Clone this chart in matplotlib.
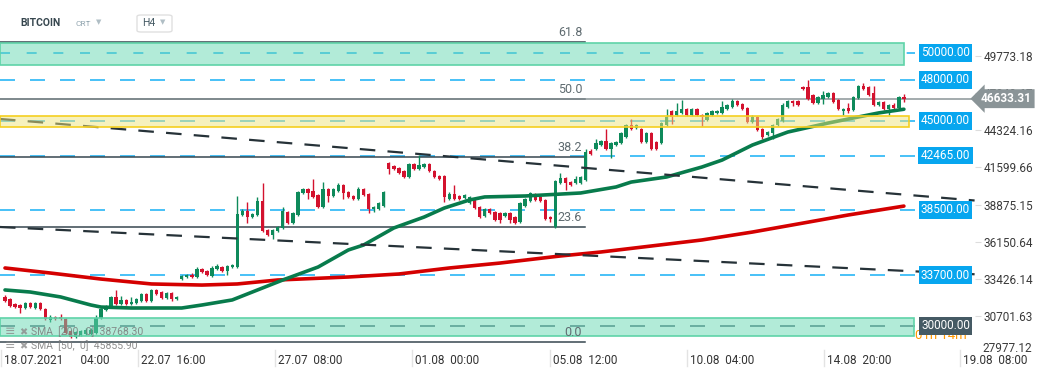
import matplotlib
matplotlib.use('Agg')
import matplotlib.pyplot as plt
import matplotlib.transforms as mtransforms
from matplotlib.patches import Rectangle, FancyBboxPatch
import numpy as np

# BTC H4 candles, 18.07.2021 04:00 onward
opens = np.array([
    32120, 31970, 31600, 31530, 31310, 31680, 31310, 31680, 31240, 30430,
    30650, 30650, 30500, 29630, 29190, 29330, 29410, 29410, 29480, 30580,
    31160, 31460, 32120, 31600, 31900, 31600, 31680, 31820, 32340, 31820,
    32630, 32480, 32040, 32410, 31970, 33430, 33580, 33730, 33580, 34170,
    34020, 33650, 34170, 34310, 34020, 34310, 34310, 38120, 38410, 37970,
    38120, 39140, 37020, 36650, 36950, 37170, 38340, 37530, 38120, 39730,
    40020, 39870, 39580, 38700, 40020, 39510, 39870, 40310, 39800, 39510,
    39290, 40020, 39660, 38560, 38560, 38780, 41920, 41700, 41560, 41340,
    40900, 41850, 41490, 41630, 41850, 41340, 40970, 40970, 39290, 39660,
    39510, 39360, 39000, 39220, 38700, 38050, 38560, 38340, 38260, 38050,
    38260, 37970, 37610, 38780, 39140, 39660, 39440, 39220, 37970, 37240,
    40460, 40830, 40530, 40460, 40460, 40680, 42800, 42950, 43240, 43530,
    42950, 43240, 43390, 43830, 44710, 44490, 44410, 43460, 44120, 43460,
    43390, 44710, 45730, 45440, 45580, 45880, 45440, 45880, 45440, 45070,
    45440, 45580, 45580, 45880, 46020, 46460, 46240, 45950, 44930, 45290,
    44410, 43970, 44120, 44710, 45000, 46020, 46460, 46460, 47490, 47490,
    46900, 46320, 46610, 46760, 47050, 46540, 45730, 45950, 45800, 46680,
    47560, 47490, 47050, 46170, 46390, 45880, 46170, 45950, 46760])
highs = np.array([
    32260, 32040, 31680, 31600, 31750, 31750, 31750, 31750, 31310, 30800,
    30730, 30870, 30580, 29700, 29630, 29700, 29850, 29850, 30800, 31310,
    31530, 32190, 32630, 32190, 31970, 32120, 32040, 32410, 32410, 32700,
    32700, 32560, 32480, 32480, 32190, 33730, 33800, 33870, 34310, 34240,
    34090, 34390, 34530, 34390, 34460, 34530, 39510, 38560, 39070, 38260,
    39440, 40460, 37090, 37090, 37310, 38700, 38410, 38340, 39870, 40090,
    40090, 40750, 39660, 40530, 40090, 40090, 40460, 40390, 39870, 39580,
    40170, 40090, 39730, 38780, 39070, 39870, 42000, 41780, 41630, 41410,
    41920, 41920, 42510, 41920, 41920, 41410, 41050, 41050, 39800, 40310,
    39580, 39660, 39510, 39290, 38780, 38630, 38630, 38410, 38340, 38340,
    38340, 38050, 39070, 39360, 39800, 39730, 39510, 39290, 38050, 40680,
    41190, 40900, 40610, 40970, 40970, 42950, 42950, 43680, 43610, 44410,
    43460, 43530, 44190, 44780, 45150, 44780, 44490, 44190, 44190, 43530,
    44930, 45880, 45800, 46320, 46540, 45950, 45950, 45950, 45510, 45660,
    45800, 45800, 46460, 46240, 46610, 46540, 46320, 46020, 45440, 45360,
    44490, 44270, 44780, 45220, 46320, 46540, 46540, 46540, 47560, 48000,
    46980, 46830, 47200, 47120, 47120, 46610, 45950, 46320, 46830, 47630,
    47780, 47560, 47560, 46460, 46460, 46240, 46320, 46830, 46980])
lows = np.array([
    31750, 31380, 31310, 30940, 31240, 31310, 31240, 31160, 30430, 30290,
    30430, 30430, 29410, 29110, 29110, 29260, 29330, 29330, 29410, 30500,
    31090, 31380, 31530, 31530, 31530, 31530, 31600, 31750, 31750, 31750,
    32260, 31970, 31970, 31820, 31900, 33360, 33510, 33510, 33510, 33870,
    33650, 33580, 34090, 33950, 33730, 34240, 34240, 38050, 37530, 37900,
    38050, 36870, 36580, 36360, 36870, 37090, 37460, 37460, 38050, 39660,
    39290, 39360, 38630, 38630, 39070, 39440, 39800, 39290, 39360, 39220,
    39220, 39510, 38260, 38340, 38480, 38700, 41120, 41410, 41120, 40830,
    40830, 41410, 41410, 41560, 41270, 40830, 40680, 39070, 39220, 39220,
    39220, 39290, 38920, 38560, 37900, 37970, 38190, 37680, 37530, 37970,
    37530, 37460, 37530, 38700, 39070, 39140, 39070, 37750, 37610, 37170,
    40390, 39950, 40240, 40390, 40390, 40610, 42510, 42880, 43170, 42880,
    42290, 43170, 43310, 43750, 44340, 44410, 43390, 43390, 42880, 42880,
    43310, 44630, 44780, 45360, 45510, 45360, 45360, 45360, 44630, 45000,
    45360, 45510, 45510, 45800, 45950, 46100, 45800, 44850, 44850, 44270,
    43680, 43900, 43680, 44630, 44930, 45950, 46100, 46100, 47270, 46540,
    46240, 46240, 46240, 46680, 46320, 45800, 45440, 45580, 45730, 46610,
    47270, 46830, 46100, 46100, 45800, 45440, 45880, 45880, 46390])
closes = np.array([
    31820, 31460, 31380, 31310, 31680, 31380, 31680, 31240, 30500, 30650,
    30500, 30500, 29480, 29190, 29550, 29630, 29700, 29700, 30580, 31240,
    31460, 32120, 31600, 31900, 31600, 31750, 31970, 32340, 31820, 32630,
    32340, 32040, 32410, 31970, 32120, 33650, 33730, 33580, 34170, 33950,
    33730, 34240, 34390, 34020, 34390, 34460, 38190, 38410, 37970, 38190,
    39140, 36950, 36650, 37020, 37240, 38410, 37530, 38260, 39800, 40020,
    39730, 39440, 38700, 40020, 39510, 40020, 40310, 39730, 39440, 39290,
    40020, 39580, 38560, 38700, 39000, 39800, 41490, 41490, 41190, 40900,
    41850, 41490, 41780, 41850, 41340, 40900, 40750, 39440, 39660, 39290,
    39290, 39580, 39440, 38630, 37970, 38560, 38260, 37750, 37750, 38260,
    37750, 37530, 39000, 39290, 39730, 39220, 39140, 37830, 37830, 40610,
    40830, 40460, 40310, 40750, 40900, 42730, 42580, 43390, 43530, 42950,
    43390, 43460, 44120, 44710, 44410, 44710, 43460, 44120, 42950, 42950,
    44850, 45290, 45290, 45730, 45880, 45440, 45880, 45440, 45290, 45580,
    45730, 45730, 46020, 46170, 46460, 46170, 45880, 44930, 45290, 44340,
    43830, 44190, 44710, 45150, 46170, 46460, 46320, 46170, 47340, 46610,
    46320, 46760, 46900, 47050, 46390, 45880, 45880, 45730, 46760, 47560,
    47340, 46900, 46170, 46390, 45880, 46170, 45950, 46760, 46630])

# moving averages (bar index, value)
sma50_idx = [0, 5, 11, 17, 19, 25, 35, 39, 45, 55, 62, 68, 71, 77, 83, 87,
             92, 95, 103, 114, 121, 124, 131, 138, 142, 148, 155, 163, 168, 173, 178]
sma50_val = [32630, 32480, 32120, 31530, 31380, 31310, 31310, 31530, 31900, 33360,
             34310, 35560, 35920, 37170, 37970, 38630, 39220, 39440, 39510, 39730,
             40170, 40530, 40900, 41630, 42140, 43240, 44190, 44850, 45220, 45590, 45860]
sma200_idx = [0, 9, 19, 29, 39, 46, 54, 68, 78, 88, 98, 110, 118, 128, 138,
              148, 157, 167, 178]
sma200_val = [34240, 33870, 33430, 33070, 32990, 33070, 33360, 33580, 33800, 34240,
              34600, 35120, 35410, 35850, 36290, 36870, 37460, 38120, 38770]

levels = [50000, 48000, 45000, 42465, 38500, 33700, 30000]
fib_labels = ['0.0', '23.6', '38.2', '50.0', '61.8']
fib_levels = [28820, 37210, 42400, 46600, 50790]
last_price = 46633.31

trend_upper = ([-1, 192], [45150, 39180])
trend_lower = ([-1, 192], [37240, 33780])

zone_green_top = (49100, 50710)
zone_yellow = (44560, 45370)
zone_green_bottom = (29260, 30580)

yticks = [49773.18, 47048.67, 44324.16, 41599.66, 38875.15, 36150.64, 33426.14, 30701.63]
xtick_pos = [-0.79, 26.34, 53.47, 80.59, 107.92, 135.05, 162.18, 189.11]
xtick_lab = ['18.07.2021      04:00', '22.07  16:00', '27.07  08:00', '01.08  00:00',
             '05.08  12:00', '10.08  04:00', '14.08  20:00', '19.08  08:00']

plt.rcParams['font.family'] = ['Roboto', 'DejaVu Sans']

W, H = 1041, 379
fig = plt.figure(figsize=(W / 100, H / 100), dpi=100)
ax = fig.add_axes([0, 29 / H, 975 / W, 350 / H])
ax.set_xlim(-0.99, 192.08)
ax.set_ylim(28236, 53856)
for s in ax.spines.values():
    s.set_visible(False)

blend = mtransforms.blended_transform_factory(ax.transAxes, ax.transData)
blend_x = mtransforms.blended_transform_factory(ax.transData, ax.transAxes)

# horizontal levels
for lv in levels:
    if lv == 30000:
        col, ds = '#546e7a', (0, (9, 9))
    elif lv == 50000:
        col, ds = '#29b6f6', (0, (6, 10))
    else:
        col, ds = '#29b6f6', (0, (9, 9))
    ax.plot([-0.99, 180.2], [lv, lv], color=col, lw=1.2, ls=ds, zorder=1.5)

# fibonacci lines
for lab, lv in zip(fib_labels, fib_levels):
    ax.plot([-0.99, 114.9], [lv, lv], color='#37474f', lw=1.1, zorder=1.6)
    ax.annotate(lab, (114.3, lv), xytext=(0, 3), textcoords='offset pixels',
                ha='right', va='bottom', fontsize=9, color='#5f6b70', zorder=6)

ax.axhline(last_price, color='#8a9497', lw=1.1, zorder=1.7)

# candles
idx = np.arange(len(closes))
up = closes >= opens
ccol = np.where(up, '#0e8a5b', '#d3122e')
ax.vlines(idx, lows, highs, colors=ccol, lw=1, zorder=3)
ax.bar(idx, np.maximum(np.abs(closes - opens), 70), bottom=np.minimum(opens, closes),
       width=0.66, color=ccol, lw=0, zorder=3)

# SMAs
ax.plot(sma200_idx, sma200_val, color='#d40000', lw=2.6, zorder=3.5, solid_capstyle='round')
ax.plot(sma50_idx, sma50_val, color='#087b4c', lw=2.6, zorder=3.5, solid_capstyle='round')

# trendlines
for tl in (trend_upper, trend_lower):
    ax.plot(tl[0], tl[1], color='#263238', lw=1.6, ls=(0, (7, 5.5)), zorder=4)

# zones
for (lo, hi), right, fc, ec in [(zone_green_top, 178.0, '#67d9b3', '#5fd3a8'),
                                (zone_yellow, 179.0, '#efe57d', '#f5cf1f'),
                                (zone_green_bottom, 180.0, '#67d9b3', '#5fd3a8')]:
    ax.add_patch(Rectangle((-0.99, lo), right + 0.99, hi - lo, fc=fc, ec='none',
                           alpha=0.5, zorder=5))
    ax.add_patch(Rectangle((-0.99, lo), right + 0.99, hi - lo, fc='none', ec=ec,
                           lw=1.2, zorder=5.1))

# right-side level labels (countdown sits partly under the 30000 box)
ax.text(0.938, 29280, '01h 14m', transform=blend, ha='left', va='center',
        fontsize=9.5, color='#ff9800', clip_on=False, zorder=6)
for lv in levels:
    fc = '#455a64' if lv == 30000 else '#07a6ef'
    ax.text(0.9697, lv, f'{lv:.2f}', transform=blend, ha='center', va='center',
            fontsize=8.5, color='white', clip_on=False, zorder=7,
            bbox=dict(boxstyle='square,pad=0.2', fc=fc, ec='none'))

# y axis ticks
ax.yaxis.tick_right()
ax.set_yticks(yticks)
ax.set_yticklabels([f'{v:.2f}' for v in yticks])
ax.tick_params(axis='y', length=4, color='#dddddd', pad=2, labelsize=8.5,
               labelcolor='#3a3a3a')
fig.text(982 / W, 1 - 348 / H, '27977.12', fontsize=8.5, color='#3a3a3a',
         ha='left', va='center')

ax.text(1.032, last_price, f'{last_price:.2f}', transform=blend, ha='center',
        va='center', fontsize=8.5, fontweight='bold', color='white', clip_on=False,
        zorder=8, bbox=dict(boxstyle='larrow,pad=0.25', fc='#8a9497', ec='none'))

# x axis
ax.set_xticks([])
for p, lab in zip(xtick_pos, xtick_lab):
    ax.plot([p, p], [0, -0.045], transform=blend_x, color='#e3e3e3', lw=1, clip_on=False)
    ax.annotate(lab, (p, -0.031), xycoords=blend_x, xytext=(3, 0),
                textcoords='offset pixels', ha='left', va='center', fontsize=8.5,
                color='#333333', annotation_clip=False)

# header
fig.text(20 / W, 1 - 23 / H, 'BITCOIN', fontsize=7.5, fontweight='bold',
         color='#37474f', va='center')
fig.text(75 / W, 1 - 24 / H, 'CRT', fontsize=6, color='#90a4ae', va='center')
fig.text(96 / W, 1 - 22 / H, '▼', fontsize=5, color='#b0bec5', va='center',
         family='DejaVu Sans')
fig.add_artist(FancyBboxPatch((137 / W, 1 - 32 / H), 35 / W, 17 / H,
                              boxstyle='round,pad=0,rounding_size=0.004',
                              transform=fig.transFigure, fc='white', ec='#e0e0e0', lw=1))
fig.text(142 / W, 1 - 23 / H, 'H4', fontsize=7.5, color='#455a64', va='center')
fig.text(160 / W, 1 - 22 / H, '▼', fontsize=5, color='#b0bec5', va='center',
         family='DejaVu Sans')

# SMA legend
for yy, lab in [(332, 'SMA  [200,  0]  38768.30'), (346, 'SMA  [50,  0]  45855.90')]:
    fig.text(5 / W, 1 - yy / H, '≡', fontsize=9, color='#8a8a8a', va='center',
             family='DejaVu Sans', alpha=0.8)
    fig.text(19 / W, 1 - yy / H, '✖', fontsize=7, color='#8a8a8a', va='center',
             family='DejaVu Sans', alpha=0.8)
    fig.text(31 / W, 1 - yy / H, lab, fontsize=7.5, color='#7a7a7a', va='center',
             alpha=0.85)

fig.savefig('out.png', dpi=100)
